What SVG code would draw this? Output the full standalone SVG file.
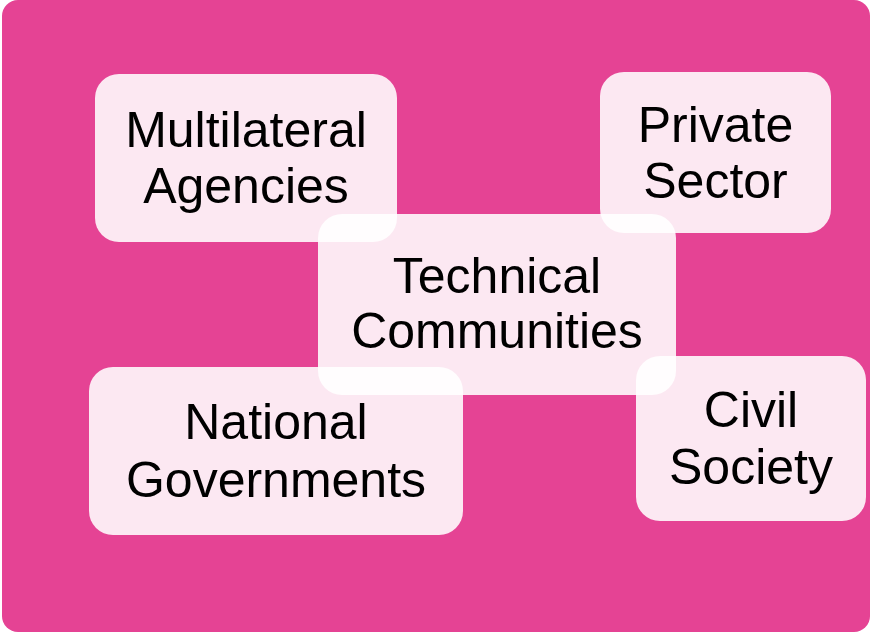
<svg xmlns="http://www.w3.org/2000/svg" width="871" height="633" viewBox="0 0 871 633">
<style>
.bg{fill:#E54394}
.box{fill:#FFFFFF;fill-opacity:0.88}
.t{font-family:"Liberation Sans",Arial,sans-serif;font-size:50px;fill:#000000;text-anchor:middle}
</style>
<rect class="bg" x="2" y="0" width="868" height="632" rx="16"/>
<g id="connectors"></g>
<g id="multilateral">
<rect class="box" x="95" y="74" width="302" height="168" rx="24"/>
<text class="t" x="246" y="147">Multilateral</text>
<text class="t" x="246" y="203">Agencies</text>
</g>
<g id="private">
<rect class="box" x="600" y="72" width="231" height="161" rx="24"/>
<text class="t" x="715.5" y="142">Private</text>
<text class="t" x="715.5" y="198">Sector</text>
</g>
<g id="technical">
<rect class="box" x="318" y="214" width="358" height="181" rx="24"/>
<text class="t" x="497" y="293">Technical</text>
<text class="t" x="497" y="348">Communities</text>
</g>
<g id="national">
<rect class="box" x="89" y="367" width="374" height="168" rx="24"/>
<text class="t" x="276" y="439">National</text>
<text class="t" x="276" y="497">Governments</text>
</g>
<g id="civil">
<rect class="box" x="636" y="356" width="230" height="165" rx="24"/>
<text class="t" x="751" y="427">Civil</text>
<text class="t" x="751" y="484">Society</text>
</g>
</svg>
